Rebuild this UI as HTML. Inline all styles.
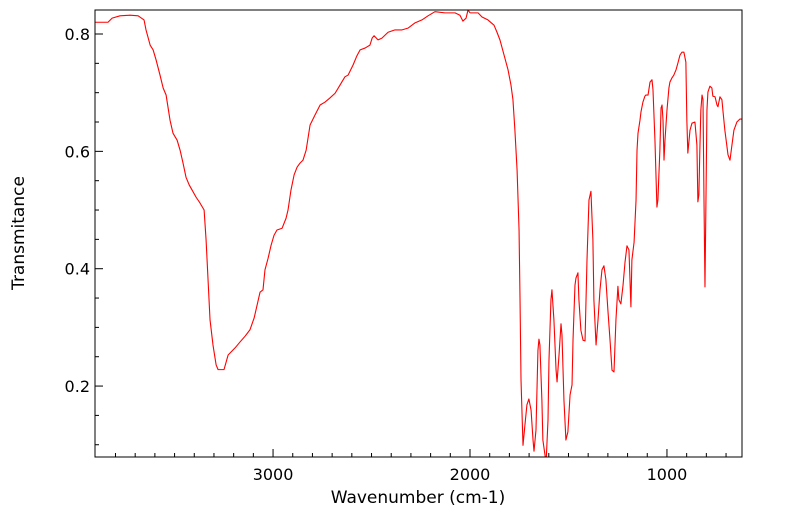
<!DOCTYPE html>
<html><head><meta charset="utf-8"><style>
body{margin:0;background:#fff;}
svg{display:block;font-family:"DejaVu Sans","Liberation Sans",sans-serif;}
</style></head><body>
<svg id="chart" width="799" height="516"></svg>
<script>
const wavenumbers=[3904,3838,3817,3777,3726,3685,3655,3645,3624,3609,3594,3574,3558,3543,3523,3508,3487,3472,3457,3442,3426,3411,3391,3371,3350,3340,3330,3320,3305,3289,3279,3249,3228,3193,3168,3142,3117,3096,3081,3066,3051,3041,3025,3010,2995,2980,2954,2934,2924,2909,2893,2878,2863,2848,2832,2812,2787,2761,2736,2711,2685,2660,2635,2619,2594,2574,2558,2533,2508,2497,2487,2467,2447,2416,2381,2345,2315,2279,2244,2213,2178,2127,2076,2051,2036,2020,2010,2000,1959,1939,1909,1878,1863,1848,1827,1807,1792,1782,1772,1761,1751,1746,1741,1731,1721,1711,1701,1690,1680,1675,1665,1660,1655,1650,1645,1635,1630,1619,1614,1604,1599,1589,1584,1574,1563,1558,1548,1538,1533,1523,1513,1503,1492,1482,1477,1467,1462,1452,1447,1437,1426,1416,1406,1396,1386,1376,1371,1360,1350,1340,1330,1320,1310,1300,1289,1279,1269,1259,1249,1244,1234,1223,1213,1203,1193,1183,1178,1167,1157,1152,1147,1137,1132,1122,1112,1107,1096,1086,1076,1071,1061,1051,1046,1036,1030,1025,1020,1015,1010,1000,990,985,975,965,954,944,934,924,914,904,899,894,883,873,858,848,843,838,833,828,822,817,812,807,802,797,792,782,772,767,756,746,741,731,721,716,706,690,680,670,660,645,630,619];
const transmittance=[0.820,0.820,0.827,0.831,0.832,0.831,0.824,0.807,0.781,0.773,0.756,0.730,0.708,0.696,0.653,0.631,0.619,0.602,0.580,0.556,0.543,0.534,0.522,0.512,0.500,0.449,0.381,0.313,0.270,0.236,0.228,0.228,0.253,0.265,0.275,0.285,0.296,0.316,0.338,0.360,0.364,0.398,0.418,0.440,0.457,0.466,0.469,0.486,0.500,0.534,0.560,0.573,0.580,0.585,0.602,0.645,0.662,0.679,0.684,0.691,0.699,0.713,0.727,0.730,0.747,0.763,0.773,0.776,0.781,0.793,0.797,0.790,0.793,0.803,0.807,0.807,0.810,0.819,0.824,0.831,0.838,0.836,0.836,0.832,0.822,0.827,0.841,0.836,0.836,0.829,0.824,0.815,0.803,0.790,0.764,0.739,0.713,0.688,0.636,0.568,0.466,0.347,0.210,0.099,0.134,0.168,0.178,0.159,0.108,0.089,0.125,0.193,0.261,0.280,0.270,0.176,0.108,0.082,0.067,0.142,0.244,0.347,0.364,0.313,0.227,0.207,0.253,0.306,0.287,0.176,0.108,0.122,0.185,0.202,0.278,0.372,0.384,0.393,0.347,0.295,0.278,0.277,0.415,0.517,0.532,0.449,0.347,0.270,0.313,0.364,0.398,0.405,0.381,0.330,0.278,0.227,0.224,0.313,0.370,0.347,0.340,0.372,0.411,0.439,0.432,0.335,0.415,0.445,0.517,0.602,0.631,0.653,0.667,0.684,0.694,0.696,0.696,0.718,0.722,0.705,0.619,0.505,0.517,0.602,0.674,0.679,0.653,0.585,0.619,0.670,0.708,0.718,0.725,0.730,0.739,0.751,0.764,0.769,0.769,0.752,0.653,0.597,0.636,0.648,0.650,0.611,0.514,0.526,0.602,0.670,0.696,0.688,0.517,0.369,0.517,0.670,0.701,0.711,0.708,0.694,0.693,0.679,0.676,0.693,0.688,0.670,0.636,0.594,0.585,0.611,0.636,0.650,0.655,0.655];
const xTickLabels=[3000,2000,1000];
const yTickLabels=[0.2,0.4,0.6,0.8];

const L=95,R=742,T=10,B=457;
const X0=3904,X1=619,Y0=0.0791,Y1=0.8409;
const sx=v=>L+(X0-v)/(X0-X1)*(R-L);
const sy=v=>B-(v-Y0)/(Y1-Y0)*(B-T);
const NS="http://www.w3.org/2000/svg";
const svg=document.getElementById('chart');
function mk(tag,attrs,parent){const e=document.createElementNS(NS,tag);for(const k in attrs)e.setAttribute(k,attrs[k]);(parent||svg).appendChild(e);return e;}

const defs=mk('defs',{});
const cp=mk('clipPath',{id:'clip'},defs);
mk('rect',{x:L,y:T,width:R-L,height:B-T},cp);

const grp=mk('g',{'clip-path':'url(#clip)'});
let d='';
for(let i=0;i<wavenumbers.length;i++){d+=(i?'L':'M')+sx(wavenumbers[i]).toFixed(2)+','+sy(transmittance[i]).toFixed(2);}
const line=mk('path',{d:d,fill:'none',stroke:'#ff0000','stroke-width':1.1,'stroke-linejoin':'round'},grp);



const frame=mk('rect',{x:L,y:T,width:R-L,height:B-T,fill:'none',stroke:'#000','stroke-width':1});



// x ticks
for(let w=3800;w>=X1;w-=100){
  const x=sx(w);const major=(w%1000===0);
  const t=mk('line',{x1:x,x2:x,y1:B,y2:B-(major?8:4),stroke:'#000','stroke-width':1});
  
  
}
xTickLabels.forEach(v=>{
  const t=mk('text',{x:sx(v),y:480,'text-anchor':'middle','font-size':16,fill:'#000'});
  t.textContent=v;
  
  
});
// y ticks
for(let k=2;k<=16;k++){
  const v=k*0.05;const y=sy(v);if(y<T||y>B)continue;
  const major=(k%4===0);
  const t=mk('line',{x1:L,x2:L+(major?8:4),y1:y,y2:y,stroke:'#000','stroke-width':1});
  
  
}
yTickLabels.forEach(v=>{
  const t=mk('text',{x:90,y:sy(v)+6,'text-anchor':'end','font-size':16,fill:'#000'});
  t.textContent=v.toFixed(1);
  
  
});
const xt=mk('text',{x:418,y:503,'text-anchor':'middle','font-size':17,fill:'#000'});
xt.textContent='Wavenumber (cm-1)';


const yt=mk('text',{x:0,y:0,transform:'translate(24,233) rotate(-90)','text-anchor':'middle','font-size':17,fill:'#000'});
yt.textContent='Transmitance';


</script>
</body></html>
